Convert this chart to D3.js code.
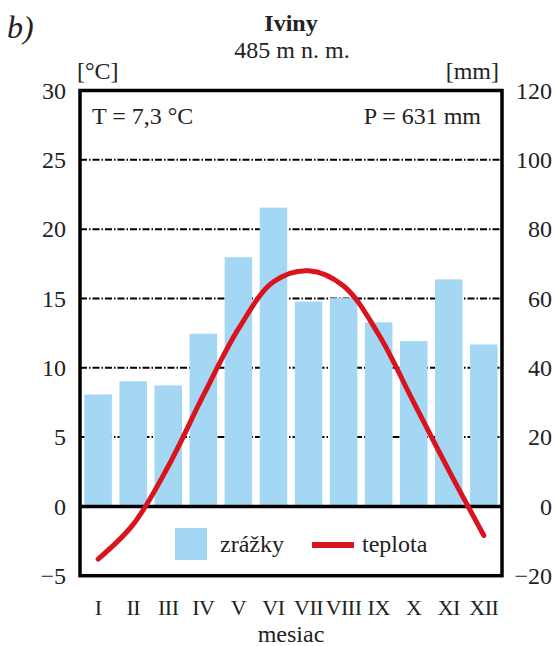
<!DOCTYPE html>
<html lang="sk">
  <head>
    <meta charset="utf-8">
    <style type="text/css">
      body { margin: 0; background: #fff; }
      svg { font-family: "Liberation Serif", "Times New Roman", serif; }
      text { fill: #222; }
      .grid line { stroke: #000; stroke-width: 2px; stroke-dasharray: 7,2,1.5,2; }
      .axis path { display: none; }
      .axis text { font-size: 24px; font-family: "Liberation Serif", serif; fill: #222; }
      .months text { font-size: 22px; letter-spacing: -0.5px; }
    </style>
  </head>
  <body>
    <script src="https://cdn.jsdelivr.net/npm/d3@7/dist/d3.min.js" type="text/javascript"></script>
    <svg id="chart" width="557" height="646"></svg>

    <script type="text/javascript">
// data
var months = ["I", "II", "III", "IV", "V", "VI", "VII", "VIII", "IX", "X", "XI", "XII"];
var zrazky = [32.3, 36.1, 34.9, 49.8, 71.9, 86.2, 59.1, 60.1, 53.1, 47.7, 65.5, 46.7];   // mm
var teplota = [-3.8, -1.3, 2.9, 8.0, 12.8, 16.2, 17.0, 15.9, 12.4, 7.5, 2.6, -2.1];     // °C
var tempTicks = [-5, 0, 5, 10, 15, 20, 25, 30];
var precTicks = [-20, 0, 20, 40, 60, 80, 100, 120];
var gridTicks = [5, 10, 15, 20, 25];

var plot = { left: 80, right: 502, top: 90.5, bottom: 575.7 };

var svg = d3.select("#chart");

var x = d3.scaleBand()
  .domain(months)
  .range([plot.left, plot.right])
  .paddingInner(0.215)
  .paddingOuter(0.125);

var yT = d3.scaleLinear().domain([-5, 30]).range([plot.bottom, plot.top]);
var yP = d3.scaleLinear().domain([-20, 120]).range([plot.bottom, plot.top]);

// gridlines
svg.append("g")
  .attr("class", "grid")
  .selectAll("line")
  .data(gridTicks)
  .enter().append("line")
  .attr("x1", plot.left)
  .attr("x2", plot.right)
  .attr("y1", function(d) { return yT(d); })
  .attr("y2", function(d) { return yT(d); });

// bars
svg.append("g").selectAll("rect")
  .data(zrazky)
  .enter().append("rect")
  .attr("x", function(d, i) { return x(months[i]); })
  .attr("width", x.bandwidth())
  .attr("y", function(d) { return yP(d); })
  .attr("height", function(d) { return yP(0) - yP(d); })
  .style("fill", "#a4d7f3");

// zero line
svg.append("line")
  .attr("x1", plot.left).attr("x2", plot.right)
  .attr("y1", yT(0)).attr("y2", yT(0))
  .style("stroke", "#000")
  .style("stroke-width", 3.5);

// temperature curve
var line = d3.line()
  .x(function(d, i) { return x(months[i]) + x.bandwidth() / 2; })
  .y(function(d) { return yT(d); })
  .curve(d3.curveCatmullRom.alpha(0.5));

svg.append("path")
  .datum(teplota)
  .attr("d", line)
  .style("fill", "none")
  .style("stroke", "#d9141e")
  .style("stroke-width", 5)
  .style("stroke-linecap", "round");

// frame
svg.append("rect")
  .attr("x", plot.left).attr("y", plot.top)
  .attr("width", plot.right - plot.left).attr("height", plot.bottom - plot.top)
  .style("fill", "none")
  .style("stroke", "#000")
  .style("stroke-width", 3.5);

// axes
svg.append("g")
  .attr("class", "axis")
  .attr("transform", "translate(" + plot.left + ",0)")
  .call(d3.axisLeft(yT).tickValues(tempTicks).tickSize(0).tickPadding(14));

var rightAxis = svg.append("g")
  .attr("class", "axis")
  .attr("transform", "translate(" + plot.right + ",0)")
  .call(d3.axisRight(yP).tickValues(precTicks).tickSize(0));
rightAxis.selectAll("text")
  .attr("x", 50)
  .attr("text-anchor", "end");

var bottomAxis = svg.append("g")
  .attr("class", "axis months")
  .attr("transform", "translate(0," + plot.bottom + ")")
  .call(d3.axisBottom(x).tickSize(0));
bottomAxis.selectAll("text")
  .attr("y", 39)
  .attr("dy", 0);

// texts
svg.append("text")
  .attr("x", 7).attr("y", 38)
  .style("font-size", "32px")
  .style("font-style", "italic")
  .text("b)");

svg.append("text")
  .attr("x", 291).attr("y", 31)
  .attr("text-anchor", "middle")
  .style("font-size", "24px")
  .style("font-weight", "bold")
  .text("Iviny");

svg.append("text")
  .attr("x", 292).attr("y", 58)
  .attr("text-anchor", "middle")
  .style("font-size", "24px")
  .text("485 m n. m.");

svg.append("text")
  .attr("x", 77).attr("y", 79)
  .style("font-size", "24px")
  .text("[°C]");

svg.append("text")
  .attr("x", 499).attr("y", 79)
  .attr("text-anchor", "end")
  .style("font-size", "24px")
  .text("[mm]");

svg.append("text")
  .attr("x", 92).attr("y", 124)
  .style("font-size", "24px")
  .text("T = 7,3 °C");

svg.append("text")
  .attr("x", 481).attr("y", 124)
  .attr("text-anchor", "end")
  .style("font-size", "24px")
  .text("P = 631 mm");

svg.append("text")
  .attr("x", 291).attr("y", 642)
  .attr("text-anchor", "middle")
  .style("font-size", "24px")
  .text("mesiac");

// legend
var legend = svg.append("g");
legend.append("rect")
  .attr("x", 175).attr("y", 528)
  .attr("width", 32).attr("height", 32)
  .style("fill", "#a4d7f3");
legend.append("text")
  .attr("x", 220).attr("y", 552)
  .style("font-size", "24px")
  .text("zrážky");
legend.append("line")
  .attr("x1", 312).attr("x2", 354)
  .attr("y1", 545).attr("y2", 545)
  .style("stroke", "#d9141e")
  .style("stroke-width", 6);
legend.append("text")
  .attr("x", 362).attr("y", 552)
  .style("font-size", "24px")
  .text("teplota");
    </script>
  </body>
</html>
